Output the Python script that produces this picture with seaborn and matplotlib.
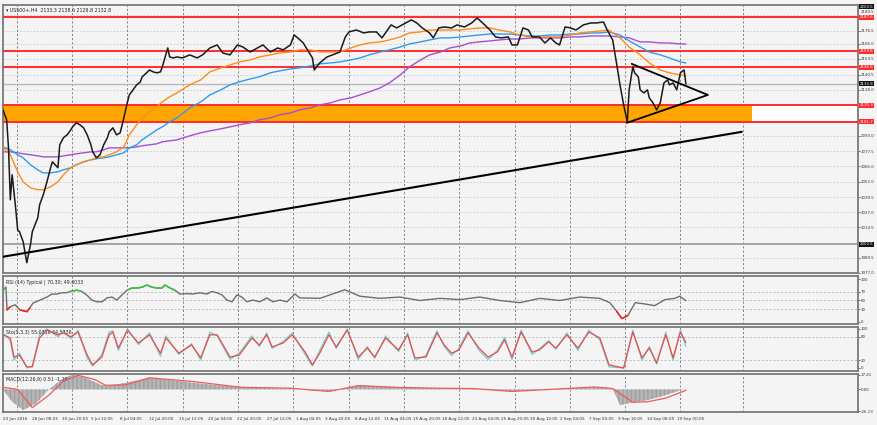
import numpy as np
import seaborn as sns
import matplotlib.pyplot as plt
from matplotlib.transforms import blended_transform_factory

# ---- data (x = H4 bar index from 23 Jun 2016) ----
price_bar = [0, 2, 3, 4, 5, 7, 8, 9, 11, 13,
             15, 16, 19, 20, 22, 24, 26, 27, 30, 31,
             33, 35, 37, 38, 40, 42, 44, 46, 48, 49,
             51, 53, 55, 57, 58, 60, 62, 64, 66, 68,
             69, 71, 73, 75, 76, 79, 80, 82, 84, 86,
             87, 90, 91, 93, 95, 98, 102, 106, 109, 113,
             117, 120, 124, 128, 131, 135, 139, 142, 146, 150,
             153, 157, 159, 161, 164, 167, 169, 170, 173, 177,
             180, 184, 187, 189, 193, 197, 200, 204, 207, 210,
             212, 215, 218, 223, 226, 229, 233, 235, 238, 241,
             245, 248, 252, 256, 259, 262, 266, 269, 272, 276,
             278, 281, 284, 287, 289, 293, 296, 299, 302, 304,
             307, 310, 313, 317, 321, 324, 328, 330, 333, 335,
             337, 339, 341, 342, 344, 345, 347, 348, 350, 352,
             353, 355, 357, 359, 361, 363, 364, 366, 368, 370,
             372, 373]
price_close = [2111.4, 2103.2, 2080.1, 2037.3, 2057.9, 2029.1, 2012.6, 2011.0, 2002.8, 1985.5,
               2000.3, 2011.0, 2022.5, 2033.2, 2041.4, 2052.1, 2063.7, 2068.6, 2063.7, 2082.6,
               2088.4, 2090.8, 2094.9, 2097.4, 2100.7, 2099.1, 2096.6, 2090.8, 2082.6, 2076.8,
               2071.9, 2074.4, 2082.6, 2088.4, 2093.3, 2096.6, 2090.8, 2092.5, 2104.8, 2118.0,
               2123.7, 2127.9, 2132.0, 2134.4, 2138.6, 2142.7, 2144.3, 2142.7, 2141.9, 2142.7,
               2146.8, 2162.4, 2155.0, 2154.2, 2155.0, 2154.2, 2156.7, 2154.2, 2156.7, 2162.4,
               2164.9, 2158.3, 2156.7, 2164.9, 2163.2, 2159.1, 2162.4, 2164.9, 2159.1, 2162.4,
               2160.8, 2164.9, 2173.1, 2170.7, 2166.5, 2159.1, 2154.2, 2144.3, 2150.1, 2155.0,
               2156.7, 2159.1, 2171.5, 2175.6, 2177.2, 2174.8, 2175.6, 2175.6, 2170.7, 2177.2,
               2181.4, 2178.9, 2181.4, 2185.5, 2183.0, 2178.9, 2174.8, 2170.7, 2178.9, 2179.7,
               2178.9, 2181.4, 2179.7, 2183.0, 2187.1, 2183.0, 2177.2, 2171.5, 2170.7, 2171.5,
               2164.9, 2164.9, 2178.9, 2177.2, 2171.5, 2171.5, 2166.5, 2170.7, 2166.5, 2164.9,
               2179.7, 2178.9, 2177.2, 2181.4, 2183.0, 2183.0, 2183.8, 2177.2, 2169.0, 2150.9,
               2132.0, 2115.5, 2101.5, 2127.9, 2146.8, 2141.9, 2138.6, 2127.9, 2125.4, 2127.9,
               2121.3, 2117.2, 2111.4, 2117.2, 2133.6, 2136.1, 2132.0, 2133.6, 2127.9, 2141.9,
               2144.3, 2132.8]

ma_bar = [0, 4, 8, 11, 15, 19, 22, 26, 30, 33, 37, 40, 44, 48, 51, 55, 58, 62, 66, 69,
          73, 76, 80, 84, 87, 91, 95, 102, 108, 113, 119, 124, 129, 135, 140, 146, 151, 157,
          162, 168, 173, 179, 184, 190, 195, 200, 206, 211, 217, 222, 228, 233, 239, 244, 250,
          255, 260, 266, 271, 277, 282, 288, 293, 299, 304, 310, 315, 321, 326, 331, 337, 342,
          348, 353, 359, 364, 370, 373]
ma_fast = [2080.9, 2074.4, 2060.4, 2052.1, 2047.2, 2045.6, 2045.6, 2048.0, 2052.1, 2057.9,
           2063.7, 2066.1, 2068.6, 2070.2, 2071.9, 2072.7, 2074.4, 2076.8, 2080.9, 2090.8,
           2099.1, 2104.8, 2109.8, 2113.9, 2118.0, 2122.1, 2125.4, 2132.0, 2136.1, 2142.7,
           2146.0, 2148.4, 2150.9, 2152.5, 2155.0, 2156.7, 2158.3, 2159.1, 2160.8, 2160.8,
           2159.1, 2159.1, 2159.1, 2162.4, 2164.9, 2166.5, 2167.4, 2169.0, 2171.5, 2174.8,
           2175.6, 2177.2, 2177.2, 2177.2, 2177.2, 2178.1, 2178.9, 2178.9, 2177.2, 2175.6,
           2173.1, 2171.5, 2171.5, 2171.5, 2171.5, 2173.1, 2174.8, 2175.6, 2176.4, 2177.2,
           2170.7, 2163.2, 2156.7, 2150.1, 2144.3, 2141.9, 2140.2, 2139.4]
ma_mid = [2080.9, 2078.5, 2074.4, 2071.9, 2066.1, 2062.0, 2059.5, 2059.5, 2060.4, 2062.0,
          2063.7, 2066.1, 2068.6, 2070.2, 2071.1, 2071.9, 2072.7, 2074.4, 2076.0, 2080.1,
          2082.6, 2086.7, 2090.8, 2094.9, 2097.4, 2101.5, 2104.8, 2113.0, 2118.0, 2123.7,
          2127.9, 2132.0, 2134.4, 2136.9, 2138.6, 2141.9, 2143.5, 2145.1, 2146.0, 2147.6,
          2149.3, 2150.1, 2150.9, 2152.5, 2154.2, 2156.7, 2159.1, 2160.8, 2163.2, 2165.7,
          2167.4, 2169.0, 2170.7, 2170.7, 2171.5, 2172.3, 2173.1, 2173.9, 2173.9, 2173.9,
          2173.1, 2172.3, 2172.3, 2173.1, 2173.1, 2173.9, 2173.9, 2174.8, 2174.8, 2175.6,
          2173.1, 2168.2, 2163.2, 2159.1, 2156.7, 2154.2, 2150.9, 2150.1]
ma_slow = [2076.8, 2076.8, 2076.0, 2075.2, 2074.4, 2073.5, 2072.7, 2072.7, 2072.7, 2073.5,
           2074.4, 2075.2, 2076.0, 2076.8, 2076.8, 2078.5, 2080.1, 2080.1, 2080.1, 2080.1,
           2080.9, 2081.8, 2082.6, 2083.4, 2085.1, 2085.9, 2086.7, 2090.0, 2092.5, 2094.1,
           2095.8, 2097.4, 2099.1, 2100.7, 2103.2, 2104.8, 2107.3, 2108.9, 2111.4, 2113.0,
           2115.5, 2117.2, 2119.6, 2121.3, 2123.7, 2126.2, 2129.5, 2133.6, 2140.2, 2146.8,
           2152.5, 2156.7, 2159.1, 2162.4, 2164.1, 2166.5, 2167.4, 2168.2, 2169.0, 2169.8,
           2169.8, 2170.7, 2170.7, 2170.7, 2170.7, 2171.5, 2171.5, 2172.3, 2172.3, 2172.3,
           2171.5, 2170.7, 2167.4, 2167.4, 2166.5, 2166.5, 2165.7, 2165.7]

red_levels = [2187.6, 2159.6, 2146.6, 2115.3, 2101.7]
zone_bar = [0, 409]
zone_price = [2101.7, 2115.3]
trend_bar = [0, 403.5]
trend_price = [1990.4, 2093.3]
tri_bar = [343.4, 385, 340.7]
tri_price = [2149.3, 2123.7, 2100.7]
last_price = 2132.8
support_level = 2000.5
price_ticks = [2189.5, 2176.5, 2166.0, 2153.5, 2140.5, 2128.0, 2115.5, 2103.0, 2090.0,
               2077.5, 2065.0, 2052.0, 2039.5, 2027.0, 2014.5, 2002.0, 1989.5, 1977.0]
hidden_ticks = [2115.5, 2103.0, 2002.0]   # covered by the level labels
raised_tick = 2189.5                      # printed just above the top red label

rsi_bar = [0, 1.6, 2.2, 3.8, 6.6, 9.3, 13.1, 14.7, 16.4, 20.2,
           24.0, 26.8, 29.5, 32.2, 34.9, 36.6, 40.4, 43.1, 45.9, 48.6,
           51.3, 54.1, 56.8, 59.5, 62.2, 65.0, 67.7, 70.4, 73.2, 75.9,
           78.6, 81.4, 84.1, 86.8, 88.5, 91.2, 93.9, 96.6, 100.5, 103.7,
           107.6, 111.4, 114.1, 116.8, 119.6, 122.3, 125.0, 127.8, 130.5, 133.2,
           136.5, 140.3, 144.1, 147.4, 151.2, 155.1, 159.4, 162.2, 173.1, 186.7,
           194.9, 205.8, 216.8, 227.7, 238.6, 249.5, 260.4, 271.4, 282.3, 293.2,
           304.1, 315.0, 326.0, 331.4, 335.2, 338.0, 341.3, 345.3, 350.5, 356.0,
           361.5, 367.0, 369.6, 373]
rsi_val = [74, 81, 28, 35, 40, 28, 24, 33, 44, 51,
           58, 65, 65, 68, 68, 71, 74, 71, 62, 51,
           47, 47, 56, 58, 51, 63, 74, 79, 79, 81,
           86, 81, 79, 79, 86, 79, 74, 65, 66, 65,
           68, 65, 71, 68, 63, 51, 47, 63, 58, 47,
           51, 47, 56, 47, 51, 47, 65, 56, 55, 75,
           60, 55, 58, 50, 55, 52, 58, 50, 45, 55,
           50, 58, 55, 45, 25, 8, 15, 45, 42, 38,
           52, 55, 60, 49.6]

sto_bar = [0, 4, 6, 9, 13, 16, 20, 24, 30, 33, 37, 41, 46, 49, 54, 58, 60, 63, 68, 74,
           80, 86, 89, 96, 103, 108, 113, 117, 124, 129, 136, 140, 144, 147, 153, 158, 165,
           169, 173, 178, 182, 188, 194, 199, 203, 209, 216, 221, 225, 231, 237, 241, 245,
           249, 254, 260, 265, 270, 274, 278, 283, 289, 293, 298, 302, 308, 314, 320, 326,
           331, 339, 344, 349, 353, 357, 362, 366, 370, 373]
sto_main = [90, 70, 20, 38, 0, 5, 85, 100, 80, 95, 75, 97, 25, 5, 35, 92, 95, 45, 100, 60,
            90, 30, 82, 35, 62, 20, 92, 82, 22, 38, 82, 55, 90, 50, 68, 90, 35, 5, 45, 92,
            50, 100, 22, 55, 25, 82, 42, 90, 20, 32, 95, 55, 32, 50, 95, 45, 22, 45, 78, 22,
            97, 35, 50, 70, 48, 90, 45, 97, 72, 3, 0, 97, 20, 55, 10, 92, 20, 97, 55]
sto_signal = [85, 77, 28, 33, 3, 3, 77, 97, 85, 90, 80, 92, 33, 8, 28, 85, 92, 51, 97, 64,
              85, 38, 77, 38, 59, 26, 85, 85, 28, 33, 77, 59, 85, 54, 64, 85, 41, 8, 38, 85,
              54, 97, 28, 51, 28, 77, 46, 85, 26, 28, 90, 59, 38, 46, 90, 51, 28, 41, 72, 28,
              92, 41, 46, 67, 51, 85, 51, 92, 77, 8, 0, 92, 26, 51, 13, 85, 26, 92, 65]

macd_bar = [0, 5, 11, 18, 25, 32, 38, 45, 54, 59, 67, 80, 92, 104, 117, 130, 144, 157, 168, 178,
            186, 194, 205, 215, 225, 236, 246, 257, 268, 278, 289, 299, 311, 323, 333, 337, 341,
            352, 362, 370, 373]
macd_hist = [0, -15, -25, -17, 0, 12, 18, 14, 5, 5, 8, 14, 11, 8, 5, 2.5, 1.5, 1, -1, -2.5,
             1, 5, 4, 2.5, 2, 1.5, 1.2, 1, -1, -2.5, -1, 0, 1.5, 2.5, 1, -19, -17, -13, -7, -1,
             0.51]
signal_bar = [0, 8, 16, 25, 33, 41, 50, 56, 67, 80, 104, 130, 157, 178, 194, 215, 236, 257,
              278, 299, 323, 333, 344, 352, 362, 373]
signal_val = [2.5, 0, -22, -7, 10, 17, 12, 5, 5.5, 14, 9.5, 2.5, 1.5, -2.5, 4.5, 2.5, 1.5, 1,
              -2.5, 0, 3, 1, -15.5, -15, -10.5, -1.19]

date_labels = ["23 Jun 2016", "28 Jun 08:05", "30 Jun 20:05", "5 Jul 12:05", "8 Jul 04:05",
               "12 Jul 20:05", "15 Jul 12:05", "20 Jul 04:05", "22 Jul 20:05", "27 Jul 12:05",
               "1 Aug 04:05", "3 Aug 20:05", "8 Aug 12:05", "11 Aug 04:05", "15 Aug 20:05",
               "18 Aug 12:05", "23 Aug 04:05", "25 Aug 20:05", "30 Aug 12:05", "2 Sep 04:05",
               "7 Sep 00:05", "9 Sep 16:05", "14 Sep 08:05", "19 Sep 00:05"]
grid_bars = [7.6, 37.8, 68.0, 98.2, 128.4, 158.6, 188.8, 219.0, 249.2, 279.4, 309.6,
             339.8, 370.0, 404.0]

# ---- styling ----
BG = "#f4f4f4"
sns.set_style("white", {"axes.facecolor": BG})
plt.rcParams["font.family"] = ["DejaVu Sans"]
YFS = 2.9     # right-axis label size
XFS = 3.0     # date label size

W, H = 877, 425
AX_W = 855
fig = plt.figure(figsize=(W / 100, H / 100), dpi=100, facecolor=BG)


def px_axes(top, bottom):
    return fig.add_axes([3 / W, (H - bottom) / H, AX_W / W, (bottom - top) / H])


ax = px_axes(5, 273)
ax_rsi = px_axes(276, 324)
ax_sto = px_axes(327, 371)
ax_macd = px_axes(374, 412)
XMAX = 467

for a in (ax, ax_rsi, ax_sto, ax_macd):
    a.set_xlim(0, XMAX)
    a.set_facecolor(BG)
    for s in a.spines.values():
        s.set_color("#7a7a7a")
        s.set_linewidth(1.3)
    a.yaxis.tick_right()
    a.tick_params(axis="y", labelsize=YFS, length=1.5, width=0.5, pad=0.6, colors="#333333")
    a.tick_params(axis="x", length=0)
    a.set_xticks([])
    for gb in grid_bars:
        a.axvline(gb, color="#555555", lw=0.5, ls=(0, (3, 3)), zorder=1)

# ---- main price panel ----
ax.set_ylim(1977.2, 2197.8)
ax.set_yticks(price_ticks)
ax.set_yticklabels(["" if v in hidden_ticks or v == raised_tick else f"{v:.1f}"
                    for v in price_ticks])
for v in price_ticks:
    ax.axhline(v, color="#c9c9c9", lw=0.6, ls=(0, (2, 2)), zorder=0)

ax.fill_between(zone_bar, zone_price[0], zone_price[1], color="#ffa500", zorder=2, lw=0)
ax.fill_between([zone_bar[1], XMAX], zone_price[0], zone_price[1], color="white", zorder=2, lw=0)
for lvl in red_levels:
    ax.axhline(lvl, color="#ff2b2b", lw=1.4, zorder=3)
ax.axhline(last_price, color="#b8b8b8", lw=1.0, zorder=2)
ax.axhline(support_level, color="#a5a5a5", lw=1.4, zorder=2)

sns.lineplot(x=ma_bar, y=ma_slow, ax=ax, color="#a64fd6", lw=1.0, estimator=None, zorder=4)
sns.lineplot(x=ma_bar, y=ma_mid, ax=ax, color="#2e9bf0", lw=1.0, estimator=None, zorder=4)
sns.lineplot(x=ma_bar, y=ma_fast, ax=ax, color="#ff8c1a", lw=1.0, estimator=None, zorder=4)
sns.lineplot(x=price_bar, y=price_close, ax=ax, color="#1a1a1a", lw=1.1, estimator=None, zorder=5)
sns.lineplot(x=trend_bar, y=trend_price, ax=ax, color="black", lw=1.5, estimator=None, zorder=6)
sns.lineplot(x=tri_bar, y=tri_price, ax=ax, color="black", lw=1.3, estimator=None,
             sort=False, zorder=6)
ax.set_xlabel("")
ax.set_ylabel("")

tr = blended_transform_factory(ax.transAxes, ax.transData)
box = dict(boxstyle="square,pad=0.15", ec="none")
ax.text(1.0035, raised_tick + 1.2, f"{raised_tick:.1f}", transform=tr, fontsize=YFS,
        color="#333333", va="bottom", ha="left", clip_on=False)
for lvl in red_levels:
    ax.text(1.0018, lvl, f"{lvl:.1f}", transform=tr, fontsize=YFS, color="white", va="center",
            ha="left", bbox=dict(box, fc="#ff2b2b"), zorder=10, clip_on=False)
for lvl in (last_price, support_level):
    ax.text(1.0018, lvl, f"{lvl:.1f}", transform=tr, fontsize=YFS, color="white", va="center",
            ha="left", bbox=dict(box, fc="#111111"), zorder=10, clip_on=False)
ax.text(1.0018, 0.993, "2200.5", transform=ax.transAxes, fontsize=YFS, color="white",
        va="center", ha="left", bbox=dict(box, fc="#111111"), clip_on=False)
ax.text(0.003, 0.99, "\u25be US500+,H4  2133.3 2138.6 2129.8 2132.8", transform=ax.transAxes,
        fontsize=3.4, color="#222222", va="top", ha="left")

# ---- RSI ----
ax_rsi.set_ylim(-4.7, 107)
ax_rsi.set_yticks([100, 70, 50, 30, 0])
for v in (70, 50, 30):
    ax_rsi.axhline(v, color="#bdbdbd", lw=0.7, ls=(0, (2, 2)), zorder=0)
sns.lineplot(x=rsi_bar, y=rsi_val, ax=ax_rsi, color="#6e6e6e", lw=1.0, estimator=None, zorder=3)
rv = np.array(rsi_val, dtype=float)
ax_rsi.plot(rsi_bar, np.where(rv >= 70, rv, np.nan), color="#3fc23f", lw=1.1, zorder=4)
ax_rsi.plot(rsi_bar, np.where(rv <= 35, rv, np.nan), color="#ff2020", lw=1.1, zorder=4)
ax_rsi.set_xlabel("")
ax_rsi.set_ylabel("")
ax_rsi.text(0.004, 0.93, "RSI (14) Typical | 70,30; 49.6033", transform=ax_rsi.transAxes,
            fontsize=3.4, color="#222222", va="top", ha="left")

# ---- Stochastic ----
ax_sto.set_ylim(-7.7, 105)
ax_sto.set_yticks([100, 80, 20, 0])
for v in (80, 20):
    ax_sto.axhline(v, color="#bdbdbd", lw=0.7, ls=(0, (2, 2)), zorder=0)
sns.lineplot(x=sto_bar, y=sto_main, ax=ax_sto, color="#67d4d0", lw=0.9, estimator=None, zorder=3)
sns.lineplot(x=sto_bar, y=sto_signal, ax=ax_sto, color="#f04848", lw=0.9, estimator=None, zorder=4)
ax_sto.set_xlabel("")
ax_sto.set_ylabel("")
ax_sto.text(0.004, 0.93, "Sto(5,3,3) 55.0316 64.5736", transform=ax_sto.transAxes,
            fontsize=3.4, color="#222222", va="top", ha="left")

# ---- MACD ----
ax_macd.set_ylim(-27.3, 18.6)
ax_macd.set_yticks([17.41, 0.0, -26.13])
ax_macd.set_yticklabels(["17.41", "0.00", "-26.13"])
ax_macd.fill_between(macd_bar, macd_hist, 0, color="#b5b5b5", lw=0, zorder=2, hatch="||||",
                     edgecolor="#a0a0a0")
sns.lineplot(x=signal_bar, y=signal_val, ax=ax_macd, color="#f05a5a", lw=0.9, estimator=None,
             zorder=4)
ax_macd.set_xlabel("")
ax_macd.set_ylabel("")
ax_macd.text(0.004, 0.93, "MACD(12,26,9) 0.51 -1.19", transform=ax_macd.transAxes,
             fontsize=3.4, color="#222222", va="top", ha="left")

tick_pos = [16 * i for i in range(len(date_labels))]
ax_macd.set_xticks(tick_pos)
ax_macd.set_xticklabels(date_labels, ha="left")
ax_macd.tick_params(axis="x", labelsize=XFS, length=2, width=0.5, pad=1.5, colors="#333333")
ax_macd.set_xlim(0, XMAX)

fig.savefig("out.png", dpi=100, facecolor=BG)
